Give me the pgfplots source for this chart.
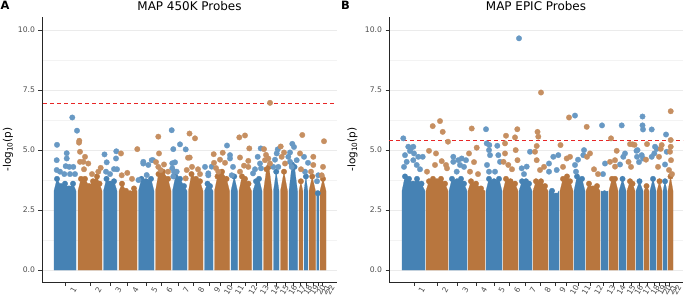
\documentclass[border=0pt]{standalone}
\usepackage{pgfplots}
\pgfplotsset{compat=1.18}
\usepackage{fontspec}
\setmainfont{DejaVu Sans}
\definecolor{cblue}{RGB}{70,130,180}
\definecolor{cbrown}{RGB}{184,118,62}
\definecolor{pblue}{RGB}{104,153,196}
\definecolor{pbrown}{RGB}{198,143,97}
\definecolor{tickgray}{RGB}{77,77,77}
\definecolor{gridgray}{RGB}{235,235,235}
\definecolor{mgridgray}{RGB}{243,243,243}
\definecolor{thr}{RGB}{232,38,38}
\newcommand{\band}[4]{%
  \addplot[draw=#1, fill=#1, line width=0.2bp, forget plot] coordinates {(#2,3.3) #4 (#3,3.3)} \closedcycle;
  \addplot[only marks, color=#1, mark=*, mark size=2.75bp, mark options={draw=#1, fill=#1, line width=0.3bp}, forget plot] coordinates {#4};
}
\pgfplotsset{manh/.style={
  scale only axis, height=265bp, ymin=-0.5, ymax=10.55,
  axis x line*=bottom, axis y line*=left,
  axis line style={black!85, line width=0.9bp},
  ytick={0,2.5,5,7.5,10}, yticklabels={0.0,2.5,5.0,7.5,10.0},
  minor ytick={1.25,3.75,6.25,8.75},
  ymajorgrids, yminorgrids,
  major grid style={draw=gridgray, line width=0.9bp},
  minor grid style={draw=mgridgray, line width=0.7bp},
  tick align=outside, major tick length=3.5bp, minor tick length=0pt,
  tick style={draw=black!80, line width=0.8bp},
  ticklabel style={font=\fontsize{7.7}{9}\selectfont, text=tickgray},
  xticklabel style={rotate=60, anchor=center, yshift=-9bp},
  xticklabels={1,2,3,4,5,6,7,8,9,10,11,12,13,14,15,16,17,18,19,20,21,22},
  title style={font=\fontsize{12}{14}\selectfont, at={(axis description cs:0.5,1)}, anchor=base, yshift=1bp},
  ylabel={-log\textsubscript{10}(p)},
  ylabel style={font=\fontsize{10.5}{12}\selectfont, anchor=center},
}}
\begin{document}
\begin{tikzpicture}
\useasboundingbox (0,0) rectangle (685bp,301bp);
\begin{axis}[manh, at={(42bp,19bp)}, anchor=south west, width=295bp, xmin=42, xmax=337,
  title={MAP 450K Probes},
  ylabel style={at={(axis description cs:-0.115,0.5)}},
  xtick={65.7,90.7,110.7,127.7,146.7,161.7,178.3,193.3,209.3,220.7,231.7,245,256.7,267.7,276.7,285,293.3,300,306.7,313.3,318.3,322.3}]
\band{cblue}{54}{76}{(57,3.8)(61,3.5)(65,3.6)(69,3.4)(73,3.6)}
\band{cbrown}{78}{102}{(81,3.8)(85,3.8)(89,3.5)(93,3.7)(97,3.9)(99.5,3.6)}
\band{cblue}{103.5}{117}{(106.5,3.8)(110,3.6)(114,3.7)}
\band{cbrown}{119}{137}{(122,3.6)(126,3.3)(130,3.2)(134,3.4)}
\band{cblue}{138.5}{154}{(141.5,3.8)(146,3.7)(151,3.8)}
\band{cbrown}{155.5}{171}{(158.5,4.0)(163,4.1)(168,3.8)}
\band{cblue}{172.5}{187}{(175.5,3.9)(180,3.8)(184,3.5)}
\band{cbrown}{188.5}{203}{(191.5,4.0)(196,3.8)(200,3.7)}
\band{cblue}{204.5}{213}{(207.5,3.6)(210,3.5)}
\band{cbrown}{214.5}{229.5}{(217.5,3.9)(222,4.1)(226.5,3.8)}
\band{cblue}{231}{237.5}{(234.2,3.9)}
\band{cbrown}{239}{251.5}{(242,3.9)(245,3.8)(248.5,3.6)}
\band{cblue}{253}{262}{(256,3.7)(259,3.8)}
\band{cbrown}{263.5}{272}{(266.5,4.2)(269,4.3)}
\band{cblue}{273.5}{279}{(276.2,4.1)}
\band{cbrown}{280.5}{287.5}{(284,4.1)}
\band{cblue}{289}{297.5}{(292,4.4)(294.5,4.3)}
\band{cbrown}{299}{302.8}{(300.9,3.7)}
\band{cblue}{304}{307.8}{(305.9,3.9)}
\band{cbrown}{309}{315.5}{(312.2,3.9)}
\band{cblue}{316.8}{318.8}{(317.8,3.2)}
\band{cbrown}{320}{326}{(323,3.8)}
\addplot[only marks, color=pblue, mark=*, mark size=2.75bp, mark options={draw=pblue, fill=pblue, line width=0.3bp}] coordinates {
(72.3,6.36)(77,5.81)(57,5.22)(66.7,4.87)(56.7,4.58)(66.7,4.65)(65.7,4.33)(69.3,4.3)(73.3,4.3)(56.7,4.17)(64.3,4.0)(70,4.0)(75,4.0)(60,4.1)
(104.5,4.82)(106.7,4.49)(106,4.1)(114,4.21)(116,4.65)(116.3,4.95)(117,4.2)(110,4.0)
(143.3,4.44)(138.5,3.75)(148.3,4.38)(153,4.58)(143.3,4.51)(151.7,4.58)(146.7,3.96)
(171.7,5.83)(173.3,5.04)(180,5.24)(185.7,5.03)(175,4.49)(172.3,4.24)(176.7,4.1)(173.3,3.9)(172.3,4.45)(174,4.1)
(205,4.3)(208.3,3.95)(208.3,4.03)(211.7,4.31)
(227,5.19)(230,4.79)(230,4.65)(231.7,3.95)(233,4.3)
(253,4.03)(257.7,4.72)(260,4.44)(260.7,5.07)(261,4.24)(255,4.2)
(273.3,4.3)(276.7,4.86)(277.7,5.03)(278.3,4.3)(275,4.6)
(288.3,4.72)(290,4.51)(291.7,4.3)(292.3,5.26)(294,5.13)(296.7,4.58)(290,4.9)
(304,4.72)(305,4.1)(308,4.47)
(318.3,3.95)(317,3.7)};
\addplot[only marks, color=pbrown, mark=*, mark size=2.75bp, mark options={draw=pbrown, fill=pbrown, line width=0.3bp}] coordinates {
(79.3,5.39)(79,5.31)(80,4.93)(83.3,4.51)(88.3,4.44)(80,4.51)(85,4.72)(100.7,4.26)(98.3,4.1)(84,4.2)(92,4.0)
(121,4.86)(127.3,4.05)(121.7,3.95)(132,3.8)(137.3,5.04)
(158.3,5.56)(159,4.86)(158.3,4.3)(160.7,4.17)(164,4.4)(168,4.1)(156,4.5)
(189.5,5.69)(195,5.49)(188,4.68)(186.7,4.17)(185.7,3.82)(189.7,4.69)(192,4.3)(198,4.2)(200,4.0)
(213.7,4.83)(214,4.47)(218.3,4.1)(222.7,4.89)(225,4.47)(220,4.6)(216,4.25)
(239.3,5.53)(245,5.61)(249.3,5.07)(240,4.69)(240,4.1)(248.3,4.55)(248.3,4.3)(244,4.35)
(264,5.04)(265,4.58)(268.3,4.65)(270,4.44)(266,4.8)
(280.7,5.15)(281.7,4.72)(285,4.44)(284,4.9)
(300,4.86)(302.3,5.63)(301,4.2)
(313.3,4.72)(313.3,4.38)(311,4.1)
(324,5.37)(321.7,3.95)(323,4.3)};
\addplot[only marks, color=thr, mark=-, mark size=2bp, mark options={draw=thr, line width=1bp}, forget plot] coordinates {
(44.5,6.94)(51.5,6.94)(58.5,6.94)(65.5,6.94)(72.5,6.94)(79.5,6.94)(86.5,6.94)(93.5,6.94)(100.5,6.94)(107.5,6.94)(114.5,6.94)(121.5,6.94)(128.5,6.94)(135.5,6.94)(142.5,6.94)(149.5,6.94)(156.5,6.94)(163.5,6.94)(170.5,6.94)(177.5,6.94)(184.5,6.94)(191.5,6.94)(198.5,6.94)(205.5,6.94)(212.5,6.94)(219.5,6.94)(226.5,6.94)(233.5,6.94)(240.5,6.94)(247.5,6.94)(254.5,6.94)(261.5,6.94)(268.5,6.94)(275.5,6.94)(282.5,6.94)(289.5,6.94)(296.5,6.94)(303.5,6.94)(310.5,6.94)(317.5,6.94)(324.5,6.94)(331.5,6.94)};
\addplot[only marks, color=pbrown, mark=*, mark size=2.75bp, mark options={draw=pbrown, fill=pbrown, line width=0.3bp}, forget plot] coordinates {(270,6.97)};
\end{axis}
\begin{axis}[manh, at={(389bp,19bp)}, anchor=south west, width=294bp, xmin=389, xmax=683,
  title={MAP EPIC Probes},
  ylabel style={at={(axis description cs:-0.124,0.5)}},
  xtick={414,437.3,457.7,476,494,509.3,525,540,555,566.7,578.3,590.7,603.3,613.3,623.3,631,639.3,647.3,654,659.3,665,669}]
\addplot[thr, dash pattern=on 4bp off 3bp, line width=1bp, forget plot] coordinates {(389,5.39) (683,5.39)};
\band{cblue}{402}{425}{(405,3.9)(409,3.8)(413,3.6)(417,3.8)(421.5,3.6)}
\band{cbrown}{426}{448}{(429,3.7)(433,3.8)(437,3.7)(441,3.8)(445,3.6)}
\band{cblue}{449}{467}{(452,3.8)(457,3.7)(461,3.8)(464,3.6)}
\band{cbrown}{468}{485}{(471,3.7)(476,3.6)(481,3.4)}
\band{cblue}{486}{502}{(489,3.8)(494,3.7)(499,3.8)}
\band{cbrown}{503}{518}{(506,3.8)(510.5,3.7)(515,3.6)}
\band{cblue}{519}{532}{(522,3.7)(526,3.7)(529,3.6)}
\band{cbrown}{533}{548}{(536,3.7)(541,3.7)(545,3.5)}
\band{cblue}{549}{559}{(552,3.3)(556,3.1)}
\band{cbrown}{560}{573}{(563,3.8)(567,3.9)(570,3.7)}
\band{cblue}{574}{585}{(577,3.9)(582,3.8)}
\band{cbrown}{586}{600}{(589,3.6)(593,3.4)(597,3.5)}
\band{cblue}{601}{608}{(604.5,3.2)}
\band{cbrown}{609}{618}{(612,3.8)(615,3.8)}
\band{cblue}{619}{626}{(622.5,3.8)}
\band{cbrown}{627}{635}{(630,3.7)(632.5,3.6)}
\band{cblue}{636}{643}{(639.5,3.7)}
\band{cbrown}{644}{649}{(646.5,3.5)}
\band{cblue}{650}{656}{(653,3.8)}
\band{cbrown}{657}{662}{(659.5,3.7)}
\band{cblue}{663}{667}{(665,3.7)}
\band{cbrown}{668}{673}{(670.5,3.9)}
\addplot[only marks, color=pblue, mark=*, mark size=2.75bp, mark options={draw=pblue, fill=pblue, line width=0.3bp}] coordinates {
(403.3,5.49)(408.3,5.14)(413.3,5.14)(410.7,5.07)(410,4.96)(414,4.86)(405,4.79)(418.3,4.72)(422.7,4.72)(406.7,4.51)(413.3,4.58)(416.7,4.38)(404,4.3)(420,4.2)
(453.3,4.72)(458.3,4.58)(461.7,4.65)(466,4.58)(453.3,4.51)(460,4.38)(456.7,4.1)(464,4.3)
(486,5.87)(486.7,5.28)(489.3,5.21)(497.3,5.18)(489,5.0)(490,4.79)(487,4.38)(489,4.1)(498.3,4.79)(500,4.51)(495,4.1)
(519,9.66)(521.7,4.24)(526.7,4.31)(530,4.93)(524,4.0)
(549,4.44)(549,4.1)(553.3,4.72)(556.7,4.17)(558.3,4.79)
(575,6.44)(584,5.0)(583.3,4.79)(575,4.38)(578,4.6)(576,4.1)
(602,6.03)(605,4.44)(603,4.0)
(621.7,6.03)(625,4.86)(623.3,4.72)(620,4.4)
(642.5,6.4)(642.5,6.03)(643,5.86)(641.7,4.79)(639,4.5)(636.5,4.97)(637.5,5.0)(637,4.72)(643,4.65)
(651.7,5.86)(655,5.14)(656.7,5.05)(651.7,4.72)(654.3,4.86)
(666,5.65)(666.7,4.93)(665,4.4)};
\addplot[only marks, color=pbrown, mark=*, mark size=2.75bp, mark options={draw=pbrown, fill=pbrown, line width=0.3bp}] coordinates {
(432.7,6.0)(440,6.21)(442.7,5.76)(448,5.35)(429,4.97)(436,4.86)(441.7,4.54)(435,4.38)(446,4.38)(427,4.1)(447,4.24)
(471.7,5.9)(476.7,5.1)(469,4.86)(470,4.1)(478,4.0)(474,4.5)
(506,5.6)(505,5.28)(515,5.53)(517.3,5.87)(515.7,5.0)(505,4.86)(503.5,4.51)(508.3,4.38)(517.5,4.58)(512,4.2)
(541,7.40)(537.5,5.76)(538.3,5.56)(536.7,5.17)(536.7,4.58)(535,4.93)(540,4.17)(544,4.3)
(560.5,5.21)(569,6.36)(570,4.72)(566.7,4.65)(563,4.3)
(586.7,5.97)(590,4.86)(587,4.72)(594,4.2)(598,4.0)
(611,5.49)(616.7,4.97)(615,4.58)(610,4.51)(615,4.31)
(630,5.25)(632.7,5.24)(634.5,5.22)(628.5,4.51)(631,4.3)
(647,5.25)(646,4.6)
(660.7,5.05)(661.7,5.21)(659,4.72)(658,4.3)
(670.7,6.62)(670.7,5.42)(670.7,5.14)(670,4.93)(669,4.17)(671,4.58)(672,4.0)};
\end{axis}
\node[anchor=base west, inner sep=0pt, font=\bfseries\fontsize{11.5}{13}\selectfont] at (0.5bp,291bp) {A};
\node[anchor=base west, inner sep=0pt, font=\bfseries\fontsize{11.5}{13}\selectfont] at (341bp,291bp) {B};
\end{tikzpicture}
\end{document}
